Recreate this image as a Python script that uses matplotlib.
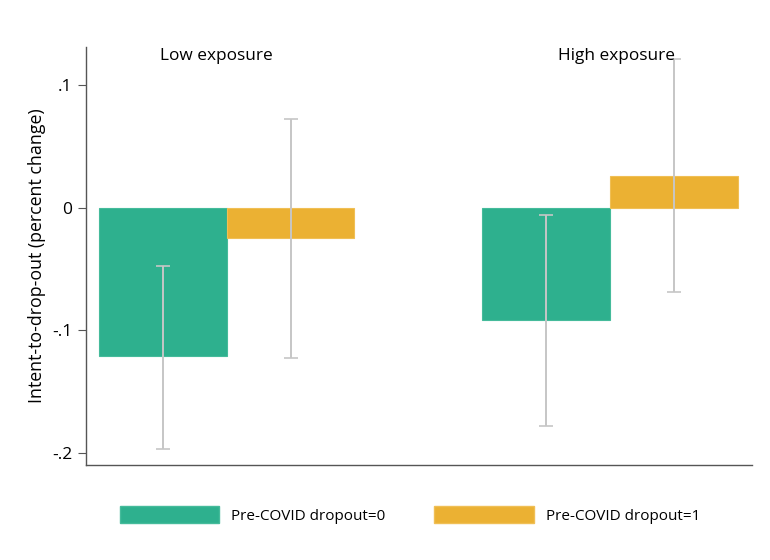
import matplotlib
matplotlib.use('Agg')
import matplotlib.pyplot as plt
from matplotlib.patches import Patch

plt.rcParams['font.family'] = ['Open Sans', 'DejaVu Sans']

groups = ['Low exposure', 'High exposure']
series = ['Pre-COVID dropout=0', 'Pre-COVID dropout=1']
# point estimates and 95% CI bounds, per group
est_0 = [-0.121, -0.092]
lo_0 = [-0.197, -0.178]
hi_0 = [-0.048, -0.006]
est_1 = [-0.025, 0.026]
lo_1 = [-0.123, -0.069]
hi_1 = [0.072, 0.121]

green = '#2eb08e'
yellow = '#ebb133'
grey = '#c6c6c6'

fig = plt.figure(figsize=(7.7, 5.6), dpi=100)
ax = fig.add_axes([86 / 770, 1 - 465 / 560, (752 - 86) / 770, (465 - 47) / 560])

pos_0 = [0, 3]
pos_1 = [1, 4]
ax.bar(pos_0, est_0, width=1, color=green, edgecolor='#45bb9b', linewidth=0.8, zorder=2)
ax.bar(pos_1, est_1, width=1, color=yellow, edgecolor='#f0bf55', linewidth=0.8, zorder=2)
for pos, lo, hi in [(pos_0, lo_0, hi_0), (pos_1, lo_1, hi_1)]:
    mid = [(a + b) / 2 for a, b in zip(lo, hi)]
    err = [[m - a for m, a in zip(mid, lo)], [b - m for m, b in zip(mid, hi)]]
    ax.errorbar(pos, mid, yerr=err, fmt='none', ecolor=grey, elinewidth=1.4,
                capsize=5, capthick=1.2, zorder=3)

ax.set_xlim(-0.6, 4.61)
ax.set_ylim(-0.21, 0.131)
ax.set_yticks([-0.2, -0.1, 0, 0.1])
ax.set_yticklabels(['-.2', '-.1', '0', '.1'], fontsize=12.5)
ax.set_xticks([])
ax.spines['top'].set_visible(False)
ax.spines['right'].set_visible(False)
for s in ['left', 'bottom']:
    ax.spines[s].set_color('#555555')
    ax.spines[s].set_linewidth(1)
ax.tick_params(axis='y', length=6, color='#555555', pad=4)
ax.set_ylabel('Intent-to-drop-out (percent change)', fontsize=12.8, labelpad=4)

ax.text(0.42, 0.1237, groups[0], fontsize=12.4, ha='center', va='center')
ax.text(3.55, 0.1237, groups[1], fontsize=12.4, ha='center', va='center')

handles = [Patch(facecolor=green, edgecolor='#45bb9b'),
           Patch(facecolor=yellow, edgecolor='#f0bf55')]
fig.legend(handles, series, loc='center', bbox_to_anchor=(410 / 770, 1 - 515 / 560),
           ncol=2, frameon=False, fontsize=11, handlelength=6.5, handleheight=1.25,
           handletextpad=0.78, columnspacing=3.2)

fig.savefig('out.png', dpi=100)
